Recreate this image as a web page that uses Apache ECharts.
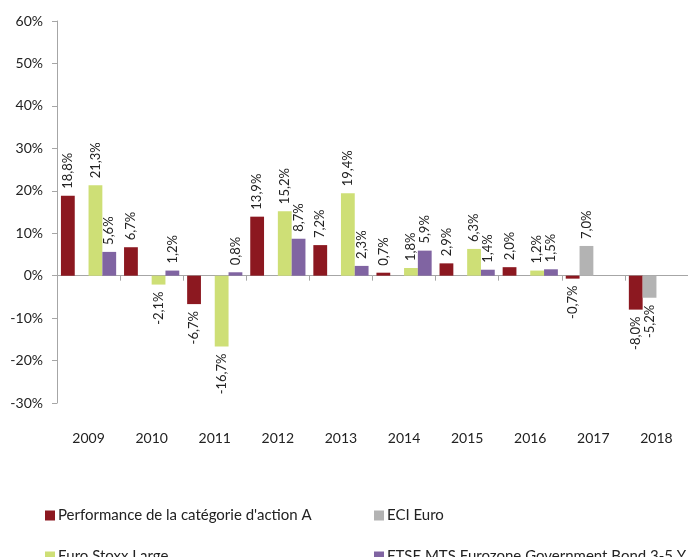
<!DOCTYPE html>
<html>
<head>
<meta charset="utf-8">
<script src="https://cdn.jsdelivr.net/npm/echarts@6/dist/echarts.min.js"></script>
<style>html,body{margin:0;padding:0;background:#fff;}#c{width:688px;height:557px;}</style>
</head>
<body>
<div id="c"></div>
<script>
const categories = ['2009','2010','2011','2012','2013','2014','2015','2016','2017','2018'];
const seriesNames = ["Performance de la catégorie d'action A", 'ECI Euro', 'Euro Stoxx Large', 'FTSE MTS Eurozone Government Bond 3-5 Y'];
const perfA = [18.8, 6.7, -6.7, 13.9, 7.2, 0.7, 2.9, 2.0, -0.7, -8.0];
const eciEuro = [null, null, null, null, null, null, null, null, 7.0, -5.2];
const euroStoxx = [21.3, -2.1, -16.7, 15.2, 19.4, 1.8, 6.3, 1.2, null, null];
const ftseMts = [5.6, 1.2, 0.8, 8.7, 2.3, 5.9, 1.4, 1.5, null, null];
const yTicks = [-30, -20, -10, 0, 10, 20, 30, 40, 50, 60];

const colors = ['#8C1820', '#B3B3B3', '#CEDF76', '#8064A2'];
const FONT = 'Lato';

function fmt(v) { return v.toFixed(1).replace('.', ',') + '%'; }

function makeData(arr) {
  return arr.map(v => {
    if (v === null) return null;
    const pos = v >= 0;
    return {
      value: v,
      label: {
        position: pos ? 'top' : 'bottom',
        align: pos ? 'left' : 'right',
        verticalAlign: 'middle'
      }
    };
  });
}

const allSeries = [perfA, eciEuro, euroStoxx, ftseMts].map((arr, i) => ({
  name: seriesNames[i],
  type: 'bar',
  xAxisIndex: 0,
  barGap: '0%',
  barCategoryGap: '12.5%',
  itemStyle: { color: colors[i] },
  label: {
    show: true,
    rotate: 90,
    distance: 7,
    fontFamily: FONT,
    fontSize: 13,
    color: '#222',
    formatter: p => fmt(p.value)
  },
  data: makeData(arr)
}));

const legendCommon = {
  orient: 'vertical', top: 503, height: 80, itemGap: 26,
  itemWidth: 10, itemHeight: 10, icon: 'rect',
  textStyle: { fontFamily: FONT, fontSize: 15, color: '#222', padding: [0, 0, 0, -2] }
};

const chart = echarts.init(document.getElementById('c'));
chart.setOption({
  animation: false,
  backgroundColor: '#fff',
  textStyle: { fontFamily: FONT },
  grid: { left: 57, top: 21, width: 640, height: 382, containLabel: false },
  legend: [
    Object.assign({ data: [seriesNames[0], seriesNames[2]], left: 40 }, legendCommon),
    Object.assign({ data: [seriesNames[1], seriesNames[3]], left: 369 }, legendCommon)
  ],
  xAxis: [
    {
      type: 'category',
      data: categories,
      position: 'bottom',
      axisLine: { onZero: true, lineStyle: { color: '#A6A6A6', width: 1 } },
      axisTick: { show: true, length: 5, lineStyle: { color: '#A6A6A6' } },
      axisLabel: { show: false },
      splitLine: { show: false }
    },
    {
      type: 'category',
      data: categories,
      position: 'bottom',
      axisLine: { show: false, onZero: false },
      axisTick: { show: false },
      axisLabel: { margin: 28, fontFamily: FONT, fontSize: 14, color: '#222' },
      splitLine: { show: false }
    }
  ],
  yAxis: {
    type: 'value',
    min: yTicks[0],
    max: yTicks[yTicks.length - 1],
    interval: 10,
    axisLine: { show: true, lineStyle: { color: '#A6A6A6' } },
    axisTick: { show: true, length: 5, lineStyle: { color: '#A6A6A6' } },
    splitLine: { show: false },
    axisLabel: { margin: 14, fontFamily: FONT, fontSize: 14, color: '#222', formatter: '{value}%' }
  },
  series: allSeries
});
</script>
</body>
</html>
